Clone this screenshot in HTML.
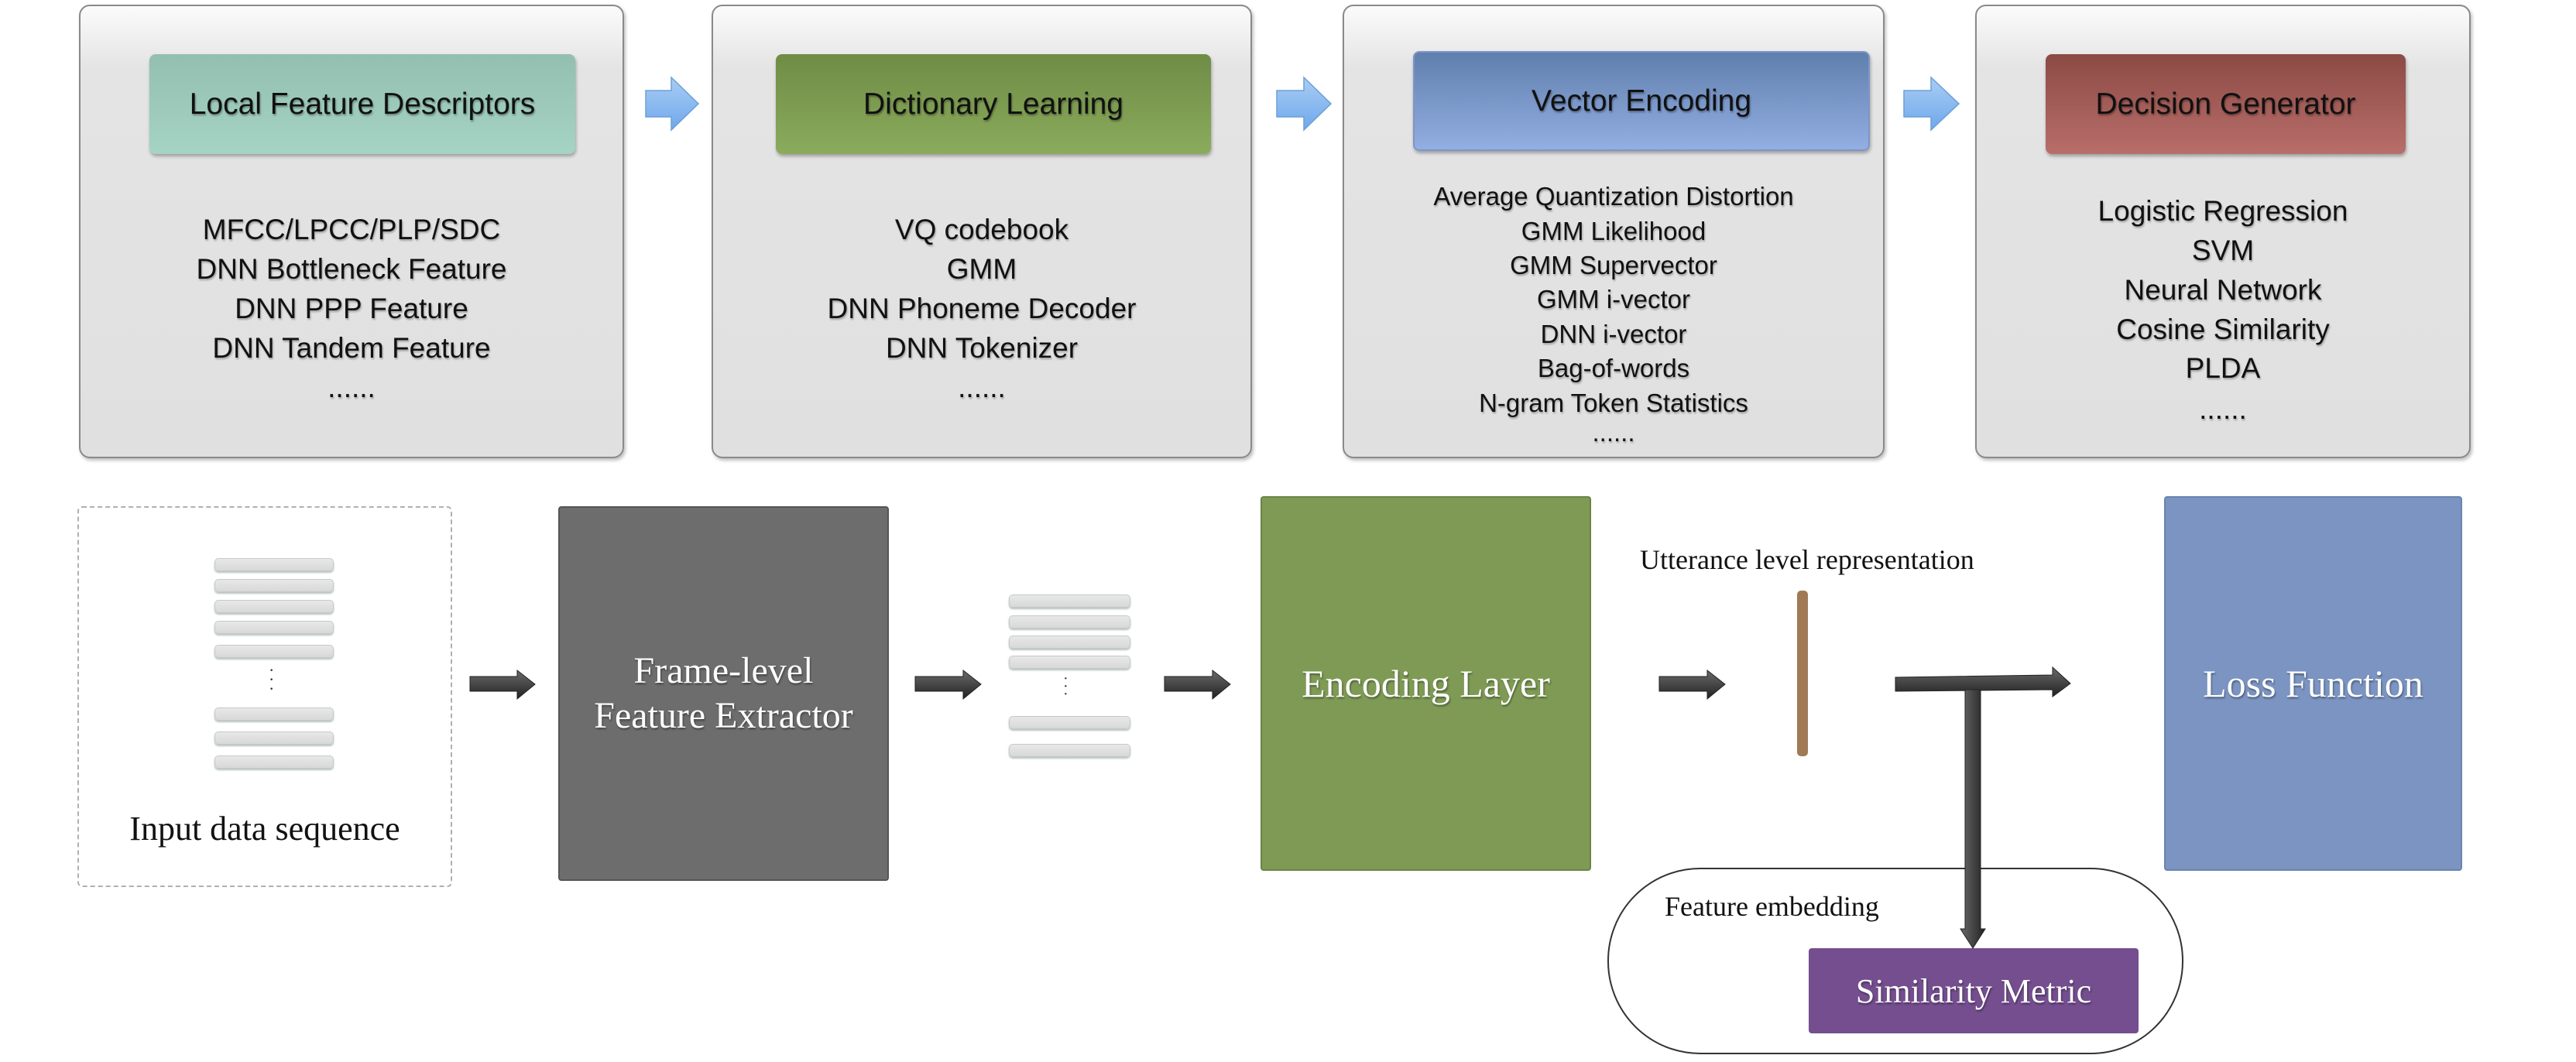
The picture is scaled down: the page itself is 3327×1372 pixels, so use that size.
<!DOCTYPE html>
<html><head><meta charset="utf-8"><style>
*{margin:0;padding:0;box-sizing:border-box}
body{width:3327px;height:1372px;background:#fff;position:relative;overflow:hidden;font-family:"Liberation Sans",sans-serif}
.a{position:absolute}
.panel{position:absolute;top:6px;height:586px;border:2px solid #8a8a8a;border-radius:14px;background:linear-gradient(#fbfbfb 0,#e4e4e4 80px,#e0e0e0 100%);box-shadow:2px 3px 4px rgba(0,0,0,.25)}
.hdr{position:absolute;border-radius:8px;display:flex;align-items:center;justify-content:center;font-size:39px;color:#111;text-shadow:1px 2px 2px rgba(0,0,0,.35);box-shadow:1px 3px 4px rgba(0,0,0,.3)}
.list{position:absolute;text-align:center;color:#111;text-shadow:1px 2px 2px rgba(0,0,0,.3)}
.list div{position:absolute;left:0;right:0;white-space:nowrap}
.bar{position:absolute;height:17px;border-radius:5px;background:linear-gradient(#e8e8e8,#d8d8d8);border:1px solid #c4cbc9;box-shadow:0 2px 2px #b6c2bf}
.serif{font-family:"Liberation Serif",serif}
.box{position:absolute;border-radius:4px;display:flex;align-items:center;justify-content:center;text-align:center;color:#fff;font-family:"Liberation Serif",serif;text-shadow:1px 2px 2px rgba(0,0,0,.4)}
</style></head><body>

<!-- top panels -->
<div class="panel" style="left:102px;width:704px"></div>
<div class="panel" style="left:919px;width:698px"></div>
<div class="panel" style="left:1734px;width:700px"></div>
<div class="panel" style="left:2551px;width:640px"></div>

<div class="hdr" style="left:193px;top:70px;width:550px;height:129px;background:linear-gradient(#93bfb0,#a5d3c4)">Local Feature Descriptors</div>
<div class="hdr" style="left:1002px;top:70px;width:562px;height:129px;background:linear-gradient(#6f8c45,#8aab5c)">Dictionary Learning</div>
<div class="hdr" style="left:1825px;top:66px;width:590px;height:129px;background:linear-gradient(#5f7fad,#93aee2);border:2px solid #7e95c6">Vector Encoding</div>
<div class="hdr" style="left:2642px;top:70px;width:465px;height:129px;background:linear-gradient(#8c4a44,#b86e6a)">Decision Generator</div>

<!-- blue arrows -->
<svg class="a" style="left:0;top:0" width="3327" height="600">
<defs><linearGradient id="bg" x1="0" y1="0" x2="0" y2="1"><stop offset="0" stop-color="#a9cdf5"/><stop offset="1" stop-color="#6fa8ea"/></linearGradient></defs>
<g fill="url(#bg)" stroke="#6c9fd8" stroke-width="1.5">
<polygon points="834,117 867,117 867,100 902,134 867,168 867,151 834,151"/>
<polygon points="1649,117 1684,117 1684,100 1719,134 1684,168 1684,151 1649,151"/>
<polygon points="2459,117 2494,117 2494,100 2530,134 2494,168 2494,151 2459,151"/>
</g></svg>

<div class="list" style="left:102px;width:704px;top:0;font-size:37px">
<div style="top:276px">MFCC/LPCC/PLP/SDC</div>
<div style="top:327px">DNN Bottleneck Feature</div>
<div style="top:378px">DNN PPP Feature</div>
<div style="top:429px">DNN Tandem Feature</div>
<div style="top:480px">......</div>
</div>
<div class="list" style="left:919px;width:698px;top:0;font-size:37px">
<div style="top:276px">VQ codebook</div>
<div style="top:327px">GMM</div>
<div style="top:378px">DNN Phoneme Decoder</div>
<div style="top:429px">DNN Tokenizer</div>
<div style="top:480px">......</div>
</div>
<div class="list" style="left:1734px;width:700px;top:0;font-size:33px">
<div style="top:235px">Average Quantization Distortion</div>
<div style="top:280px">GMM Likelihood</div>
<div style="top:324px">GMM Supervector</div>
<div style="top:368px">GMM i-vector</div>
<div style="top:413px">DNN i-vector</div>
<div style="top:457px">Bag-of-words</div>
<div style="top:502px">N-gram Token Statistics</div>
<div style="top:540px">......</div>
</div>
<div class="list" style="left:2551px;width:640px;top:0;font-size:37px">
<div style="top:252px">Logistic Regression</div>
<div style="top:303px">SVM</div>
<div style="top:354px">Neural Network</div>
<div style="top:405px">Cosine Similarity</div>
<div style="top:455px">PLDA</div>
<div style="top:508px">......</div>
</div>

<!-- bottom -->
<div class="a" style="left:100px;top:654px;width:484px;height:492px;border:2px dashed #b0b0b0;border-radius:6px"></div>
<div class="bar" style="left:277px;top:721px;width:154px"></div>
<div class="bar" style="left:277px;top:748px;width:154px"></div>
<div class="bar" style="left:277px;top:775px;width:154px"></div>
<div class="bar" style="left:277px;top:802px;width:154px"></div>
<div class="bar" style="left:277px;top:833px;width:154px"></div>
<div class="a serif" style="left:347px;top:860px;font-size:22px;line-height:12px;color:#333">·<br>·<br>·</div>
<div class="bar" style="left:277px;top:914px;width:154px"></div>
<div class="bar" style="left:277px;top:945px;width:154px"></div>
<div class="bar" style="left:277px;top:976px;width:154px"></div>
<div class="a serif" style="left:100px;width:484px;top:1045px;text-align:center;font-size:44px;color:#111">Input data sequence</div>

<div class="box" style="left:721px;top:654px;width:427px;height:484px;background:#6d6d6d;border:2px solid #555;font-size:48px;line-height:58px">Frame-level<br>Feature Extractor</div>

<div class="bar" style="left:1303px;top:768px;width:157px"></div>
<div class="bar" style="left:1303px;top:795px;width:157px"></div>
<div class="bar" style="left:1303px;top:821px;width:157px"></div>
<div class="bar" style="left:1303px;top:847px;width:157px"></div>
<div class="a serif" style="left:1373px;top:872px;font-size:20px;line-height:10px;color:#333">·<br>·<br>·</div>
<div class="bar" style="left:1303px;top:925px;width:157px"></div>
<div class="bar" style="left:1303px;top:961px;width:157px"></div>

<div class="box" style="left:1628px;top:641px;width:427px;height:484px;background:#7e9a54;border:2px solid #6a8446;font-size:50px">Encoding Layer</div>
<div class="a serif" style="left:2118px;top:702px;font-size:36px;color:#111;white-space:nowrap">Utterance level representation</div>
<div class="a" style="left:2321px;top:763px;width:14px;height:214px;background:#a07a55;border-radius:5px"></div>
<div class="box" style="left:2795px;top:641px;width:385px;height:484px;background:#7b94c1;border:2px solid #6a83b0;font-size:50px">Loss Function</div>

<div class="a" style="left:2076px;top:1121px;width:744px;height:241px;border:2px solid #333;border-radius:120px"></div>
<div class="a serif" style="left:2150px;top:1150px;font-size:36px;color:#111;white-space:nowrap">Feature embedding</div>
<div class="box" style="left:2336px;top:1225px;width:426px;height:110px;background:#744e8f;font-size:44px">Similarity Metric</div>

<svg class="a" style="left:0;top:0" width="3327" height="1372">
<defs><linearGradient id="dg" x1="0" y1="0" x2="0" y2="1"><stop offset="0" stop-color="#6a6a6a"/><stop offset="1" stop-color="#222"/></linearGradient>
<linearGradient id="dv" x1="0" y1="0" x2="1" y2="0"><stop offset="0" stop-color="#6a6a6a"/><stop offset="1" stop-color="#222"/></linearGradient></defs>
<g fill="url(#dg)" stroke="#222" stroke-width="1">
<polygon points="607,874 668,874 668,866 691,884 668,903 668,893 607,893"/>
<polygon points="1182,874 1244,874 1244,866 1267,884 1244,903 1244,893 1182,893"/>
<polygon points="1504,874 1566,874 1566,866 1589,884 1566,903 1566,893 1504,893"/>
<polygon points="2143,874 2205,874 2205,866 2228,884 2205,903 2205,893 2143,893"/>
<polygon points="2448,875 2651,872 2651,862 2674,883 2651,900 2651,891 2448,893"/>
</g>
<polygon points="2538,891 2558,891 2558,1200 2564,1200 2548,1225 2532,1200 2538,1200" fill="url(#dv)" stroke="#222" stroke-width="1"/>
</svg>
</body></html>
